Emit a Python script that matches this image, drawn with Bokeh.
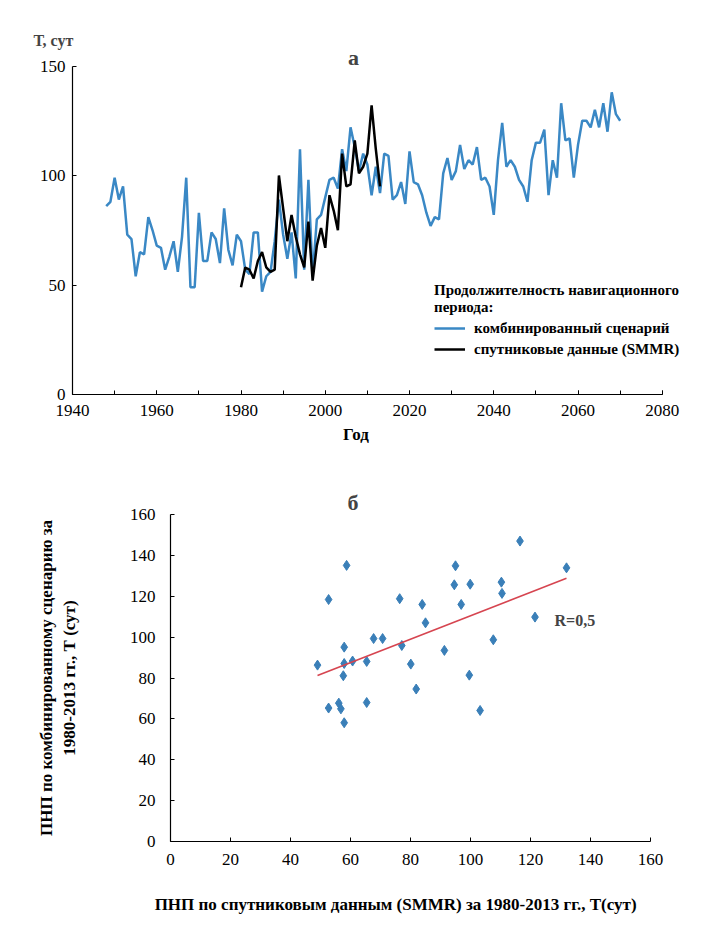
from bokeh.plotting import figure
from bokeh.models import Range1d, SingleIntervalTicker, Label, Legend, LegendItem
from bokeh.embed import file_html
from bokeh.resources import INLINE

FONT = "Liberation Serif"
PAD = "\u00a0"

# ---- data: panel a ----
years = list(range(1948, 2071))
combined = [
    86, 88,
    99, 89, 95, 73, 71, 54, 65, 64, 81, 75,
    68, 67, 57, 63, 70, 56, 72, 99, 49, 49,
    83, 61, 61, 74, 71, 60, 85, 66, 59, 73,
    70, 57, 55, 74, 74, 47, 54, 56, 70, 89,
    73, 62, 74, 53, 112, 57, 98, 54, 80, 82,
    90, 98, 99, 94, 112, 102, 122, 113, 102, 110,
    105, 91, 104, 92, 110, 109, 89, 91, 97, 87,
    111, 97, 96, 91, 83, 77, 81, 80, 101, 108,
    98, 102, 114, 103, 107, 105, 113, 98, 99, 95,
    82, 107, 124, 104, 107, 104, 98, 95, 88, 107,
    115, 115, 121, 91, 107, 99, 133, 116, 117, 99,
    114, 125, 125, 122, 130, 122, 133, 120, 138, 128,
    125,
]
sat_years = list(range(1980, 2014))
satellite = [
    49, 58, 57, 53, 61, 65, 58, 56, 57, 100,
    85, 70, 82, 72, 64, 58, 79, 52, 68, 76,
    67, 91, 84, 75, 110, 95, 96, 116, 101, 104,
    110, 132, 112, 95,
]

# ---- data: panel b ----
smmr = [49.0, 52.7, 52.7, 56.1, 56.8, 57.9, 57.6, 57.9, 57.9, 58.7,
        60.7, 65.4, 65.4, 67.7, 70.7, 76.4, 77.1, 80.1, 81.9, 83.9,
        85.0, 91.3, 94.6, 95.0, 96.9, 99.6, 99.9, 103.2, 107.6, 110.3,
        110.5, 116.5, 121.5, 132.0]
comb = [86.3, 118.4, 65.3, 67.7, 64.9, 58.1, 81.1, 95.1, 87.1, 135.1,
        88.3, 88.1, 68.0, 99.3, 99.3, 118.8, 95.9, 86.8, 74.6, 116.0,
        107.0, 93.5, 125.6, 134.9, 116.0, 81.4, 125.9, 64.1, 98.7, 126.9,
        121.4, 147.0, 109.8, 133.9]
trend_x = [49.0, 132.0]
trend_y = [81.2, 128.8]
r_text = "R=0,5"

BLUE = "#3A88C5"
MARK = "#3A7FB8"
RED = "#D64550"


def style_axis(ax, tick_size="17px", label_size="17px"):
    ax.axis_line_color = "black"
    ax.axis_line_width = 1.2
    ax.major_tick_in = 4
    ax.major_tick_out = 0
    ax.minor_tick_in = 4
    ax.minor_tick_out = 0
    ax.major_tick_line_color = "black"
    ax.minor_tick_line_color = "black"
    ax.major_label_text_font = FONT
    ax.major_label_text_font_size = tick_size
    ax.major_label_text_color = "black"
    ax.axis_label_text_font = FONT
    ax.axis_label_text_font_size = label_size
    ax.axis_label_text_font_style = "bold"
    ax.axis_label_text_color = "black"


# ---------------- panel a ----------------
p1 = figure(width=695, height=451, output_backend="svg", toolbar_location=None,
            x_range=Range1d(1940, 2086.7), y_range=Range1d(0, 158),
            min_border_left=72, min_border_right=5, min_border_top=48,
            min_border_bottom=57)
p1.title.text = "Т, сут"
p1.title.align = "left"
p1.title.offset = -39
p1.title.standoff = 0
p1.title.text_font = FONT
p1.title.text_font_style = "bold"
p1.title.text_font_size = "16px"
p1.outline_line_color = None
p1.grid.visible = False
p1.xaxis.ticker = SingleIntervalTicker(interval=20, num_minor_ticks=2)
p1.yaxis.ticker = SingleIntervalTicker(interval=50, num_minor_ticks=1)
p1.xaxis.bounds = (1940, 2080)
p1.yaxis.bounds = (0, 150)
style_axis(p1.xaxis[0])
style_axis(p1.yaxis[0])
p1.yaxis.minor_tick_line_color = None
p1.xaxis.major_label_standoff = 10
p1.yaxis.major_label_standoff = 7
p1.xaxis.axis_label = "Год" + PAD * 12
p1.xaxis.axis_label_standoff = 6

r_blue = p1.line(years, combined, line_color=BLUE, line_width=2.5)
r_black = p1.line(sat_years, satellite, line_color="black", line_width=2.5)

legend = Legend(
    items=[LegendItem(label="комбинированный сценарий", renderers=[r_blue]),
           LegendItem(label="спутниковые данные (SMMR)", renderers=[r_black])],
    title="Продолжителность навигационного\nпериода:",
    location=(362, 35),
)
legend.title_text_font = FONT
legend.title_text_font_style = "bold"
legend.title_text_font_size = "15px"
legend.title_text_color = "black"
legend.title_standoff = 2
legend.label_text_font = FONT
legend.label_text_font_style = "bold"
legend.label_text_font_size = "15px"
legend.label_text_color = "black"
legend.glyph_width = 31
legend.glyph_height = 20
legend.label_height = 20
legend.label_standoff = 9
legend.spacing = 1
legend.padding = 0
legend.margin = 0
legend.border_line_alpha = 0
legend.background_fill_alpha = 0
p1.add_layout(legend)

p1.add_layout(Label(x=2006.7, y=153.7, text="а", text_font=FONT,
                    text_font_style="bold", text_font_size="22px",
                    text_baseline="middle", text_align="center"))

# ---------------- panel b ----------------
p2 = figure(width=695, height=470, output_backend="svg", toolbar_location=None,
            x_range=Range1d(0, 160), y_range=Range1d(0, 160),
            min_border_left=170, min_border_right=45, min_border_top=63,
            min_border_bottom=80)
p2.title.text = "б"
p2.title.align = "left"
p2.title.offset = 177
p2.title.standoff = 0
p2.title.text_font = FONT
p2.title.text_font_style = "bold"
p2.title.text_font_size = "22px"
p2.outline_line_color = None
p2.grid.visible = False
p2.xaxis.ticker = SingleIntervalTicker(interval=20, num_minor_ticks=1)
p2.yaxis.ticker = SingleIntervalTicker(interval=20, num_minor_ticks=1)
style_axis(p2.xaxis[0])
style_axis(p2.yaxis[0])
p2.xaxis.minor_tick_line_color = None
p2.yaxis.minor_tick_line_color = None
p2.xaxis.major_label_standoff = 12
p2.yaxis.major_label_standoff = 15
p2.xaxis.axis_label = ("ПНП по спутниковым данным (SMMR) за 1980-2013 гг., Т(сут)"
                       + PAD * 7)
p2.xaxis.axis_label_standoff = 27
p2.yaxis.axis_label = "ПНП по комбинированному сценарию за\n1980-2013 гг., Т (сут)"
p2.yaxis.axis_label_standoff = 48

p2.scatter(smmr, comb, marker="diamond", size=10, color=MARK)
p2.line(trend_x, trend_y, line_color=RED, line_width=1.5)
p2.add_layout(Label(x=128, y=108, text=r_text, text_font=FONT,
                    text_font_style="bold", text_font_size="16px",
                    text_baseline="middle", text_align="left"))

open("out.html", "w").write(file_html([p1, p2], INLINE))
